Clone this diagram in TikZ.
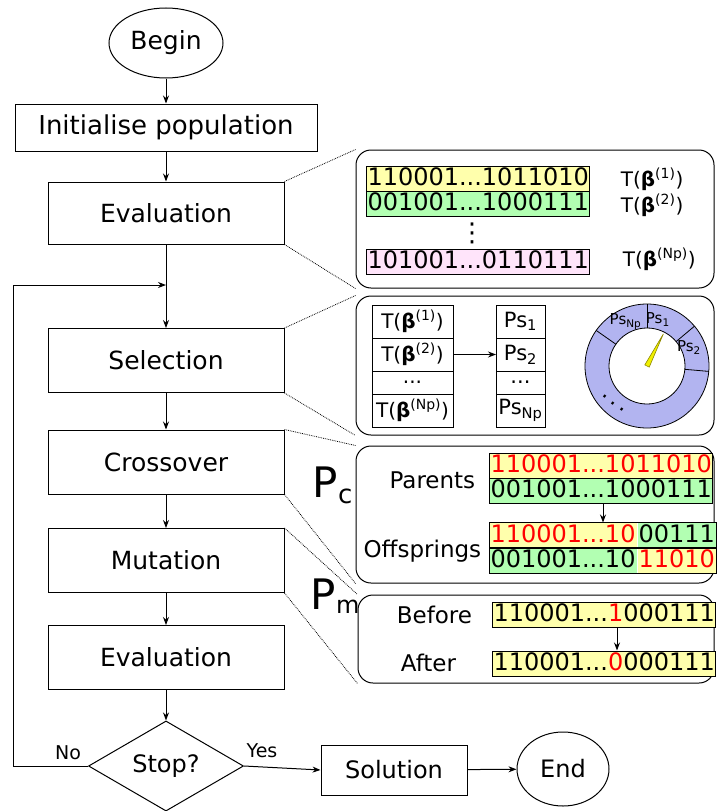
\documentclass[tikz,border=0pt]{standalone}
\usepackage{fontspec}
\setmainfont{DejaVu Sans}
\usetikzlibrary{arrows.meta,shapes,positioning}

\definecolor{bitYellow}{RGB}{255,255,172}
\definecolor{bitGreen}{RGB}{178,255,178}
\definecolor{bitPink}{RGB}{255,228,250}
\definecolor{wheelBlue}{RGB}{178,180,240}
\definecolor{needleYellow}{RGB}{240,240,0}

\newcommand{\Tb}[1]{T(\textbf{β}\textsuperscript{(#1)})}
\newcommand{\Ps}[1]{Ps\textsubscript{#1}}
\newcommand{\fsz}[1]{\fontsize{#1}{#1}\selectfont}

\begin{document}
\begin{tikzpicture}[x=1pt, y=-1pt, line width=1pt, >={Stealth[length=8pt,width=6pt]},
    every node/.style={font=\fsz{25}},
    flowbox/.style={draw, minimum width=236pt, minimum height=64pt, inner sep=0pt},
    bits/.style={fill=#1, inner xsep=1pt, inner ysep=1pt, text height=18pt, text depth=5pt, anchor=west, font=\fsz{24}},
    panel/.style={draw, rounded corners=15pt, inner sep=0pt},
    zoomline/.style={densely dotted, line width=0.8pt},
    cell/.style={draw, inner sep=0pt, outer sep=0pt, font=\fsz{20}}]
    \useasboundingbox (0,0) rectangle (716,811);

    % Main flow
    \node[draw, ellipse, minimum width=114pt, minimum height=70pt, inner sep=0pt] (begin) at (166,43) {Begin};
    \node[draw, minimum width=302pt, minimum height=47pt, inner sep=0pt, font=\fsz{26}] (init) at (166,127.5) {Initialise population};
    \node[flowbox, minimum height=62pt] (eval1) at (166,213) {Evaluation};
    \node[flowbox] (select) at (166,360.5) {Selection};
    \node[flowbox] (cross) at (166,462) {Crossover};
    \node[flowbox] (mutate) at (166,560.5) {Mutation};
    \node[flowbox] (eval2) at (166,657.5) {Evaluation};
    \node[draw, diamond, minimum width=155pt, minimum height=90pt, inner sep=0pt, font=\fsz{24}] (stop) at (166,766) {Stop?};
    \node[draw, minimum width=146pt, minimum height=50pt, inner sep=0pt, font=\fsz{24}] (sol) at (394,770) {Solution};
    \node[draw, ellipse, minimum width=92pt, minimum height=74pt, inner sep=0pt, font=\fsz{24}] (end) at (563,769) {End};
    \coordinate (join) at (166,285);

    \draw[->] (begin) -- (init);
    \draw[->] (init) -- (eval1);
    \draw[->] (eval1) -- (select);
    \draw[->] (select) -- (cross);
    \draw[->] (cross) -- (mutate);
    \draw[->] (mutate) -- (eval2);
    \draw[->] (eval2) -- (stop);
    \draw[->] (stop.west) -- ++(-75,0) |- (join);
    \draw[->] (stop.east) -- (sol.west);
    \draw[->] (sol) -- (end);
    \node[font=\fsz{19}] (no) at (68,753) {No};
    \node[font=\fsz{19}] (yes) at (262,751) {Yes};

    % Detail panels
    \node[panel, minimum width=358pt, minimum height=138pt] (evalpanel) at (535,219) {};
    \node[panel, minimum width=358pt, minimum height=139pt] (selpanel) at (535,365.5) {};
    \node[panel, minimum width=358pt, minimum height=137pt] (crosspanel) at (535,514.5) {};
    \node[panel, minimum width=356pt, minimum height=88pt] (mutpanel) at (536,639) {};

    \draw[zoomline] (eval1.north east) -- (evalpanel.north west);
    \draw[zoomline] (eval1.south east) -- (evalpanel.south west);
    \draw[zoomline] (select.north east) -- (selpanel.north west);
    \draw[zoomline] (select.south east) -- (selpanel.south west);
    \draw[zoomline] (cross.north east) -- (crosspanel.north west);
    \draw[zoomline] (cross.south east) -- (crosspanel.south west);
    \draw[zoomline] (mutate.north east) -- (mutpanel.north west);
    \draw[zoomline] (mutate.south east) -- (mutpanel.south west);

    % Evaluation: population and fitness
    \node[bits=bitYellow, draw] (b1) at (366,179) {110001...1011010};
    \node[bits=bitGreen, draw] (b2) at (366,204) {001001...1000111};
    \node[font=\fsz{26}] (bdots) at (472,233) {⋮};
    \node[bits=bitPink, draw] (bnp) at (366,261.5) {101001...0110111};
    \node[font=\fsz{20}, anchor=base west] (t1) at (617,186) {\Tb{1}};
    \node[font=\fsz{20}, anchor=base west] (t2) at (617,212) {\Tb{2}};
    \node[font=\fsz{20}, anchor=base west] (tnp) at (619,266) {\Tb{Np}};

    % Selection: fitness table, probabilities, wheel
    \node[cell, minimum width=81pt, minimum height=33pt] (f1) at (412.5,321.5) {\Tb{1}};
    \node[cell, minimum width=81pt, minimum height=33pt, below=0pt of f1] (f2) {\Tb{2}};
    \node[cell, minimum width=81pt, minimum height=23pt, below=0pt of f2] (f3) {...};
    \node[cell, minimum width=81pt, minimum height=33pt, below=0pt of f3] (f4) {\Tb{Np}};
    \node[cell, minimum width=49pt, minimum height=33pt, font=\fsz{21}] (p1) at (520.5,321.5) {\Ps{1}};
    \node[cell, minimum width=49pt, minimum height=33pt, font=\fsz{21}, below=0pt of p1] (p2) {\Ps{2}};
    \node[cell, minimum width=49pt, minimum height=23pt, font=\fsz{21}, below=0pt of p2] (p3) {...};
    \node[cell, minimum width=49pt, minimum height=33pt, font=\fsz{21}, below=0pt of p3] (p4) {\Ps{Np}};
    \draw[->] (f2) -- (p2);

    \begin{scope}[shift={(647,366)}, yscale=-1, line width=0.8pt]
      \fill[wheelBlue, even odd rule] (0,0) circle (62) (0,0) circle (38);
      \draw (0,0) circle (62);
      \draw (0,0) circle (38);
      \foreach \a in {90,40,-5,145}
        \draw (\a:38) -- (\a:62);
      \draw[fill=needleYellow, draw=olive, line width=0.6pt] (153:2.5) -- (63:36) -- (-27:2.5) -- cycle;
      \node[font=\fsz{15}] (wnp) at (116:49) {\Ps{Np}};
      \node[font=\fsz{15}] (w1) at (77:48) {\Ps{1}};
      \node[font=\fsz{15}] (w2) at (24:46) {\Ps{2}};
      \node[font=\fsz{22}, rotate=-38, inner sep=0pt] (wdots) at (228:50) {.\kern4pt.\kern4pt.};
    \end{scope}

    % Crossover
    \node[font=\fsz{42}, anchor=base west] (pc) at (309,497) {P\raisebox{-6pt}{\fsz{26}c}};
    \node[font=\fsz{23}, anchor=base east] (parents) at (479,488) {Parents};
    \node[font=\fsz{23}, anchor=base east] (offs) at (485,557) {Offsprings};
    \node[bits=bitYellow, draw, text=red] (par1) at (489,465.5) {110001...1011010};
    \node[bits=bitGreen, draw] (par2) at (489,490.5) {001001...1000111};
    \node[bits=bitYellow, text=red] (off1a) at (489,535.5) {110001...10};
    \node[bits=bitGreen, anchor=west] (off1b) at (off1a.east) {00111};
    \node[bits=bitGreen] (off2a) at (489,560.5) {001001...10};
    \node[bits=bitYellow, text=red, anchor=west] (off2b) at (off2a.east) {11010};
    \draw (off1a.north west) rectangle (off1b.south east);
    \draw (off2a.north west) rectangle (off2b.south east);
    \draw[->] ([xshift=114pt]par2.south west) -- ([xshift=114pt]off1a.north west);

    % Mutation
    \node[font=\fsz{42}, anchor=base west] (pm) at (307,609) {P\raisebox{-4pt}{\fsz{24}m}};
    \node[font=\fsz{23}, anchor=base west] (before) at (393,623) {Before};
    \node[font=\fsz{23}, anchor=base west] (after) at (397,671) {After};
    \node[bits=bitYellow, draw] (bef) at (492,615) {110001...\textcolor{red}{1}000111};
    \node[bits=bitYellow, draw] (aft) at (492,663.5) {110001...\textcolor{red}{0}000111};
    \draw[->] ([xshift=125pt]bef.south west) -- ([xshift=125pt]aft.north west);
\end{tikzpicture}
\end{document}
